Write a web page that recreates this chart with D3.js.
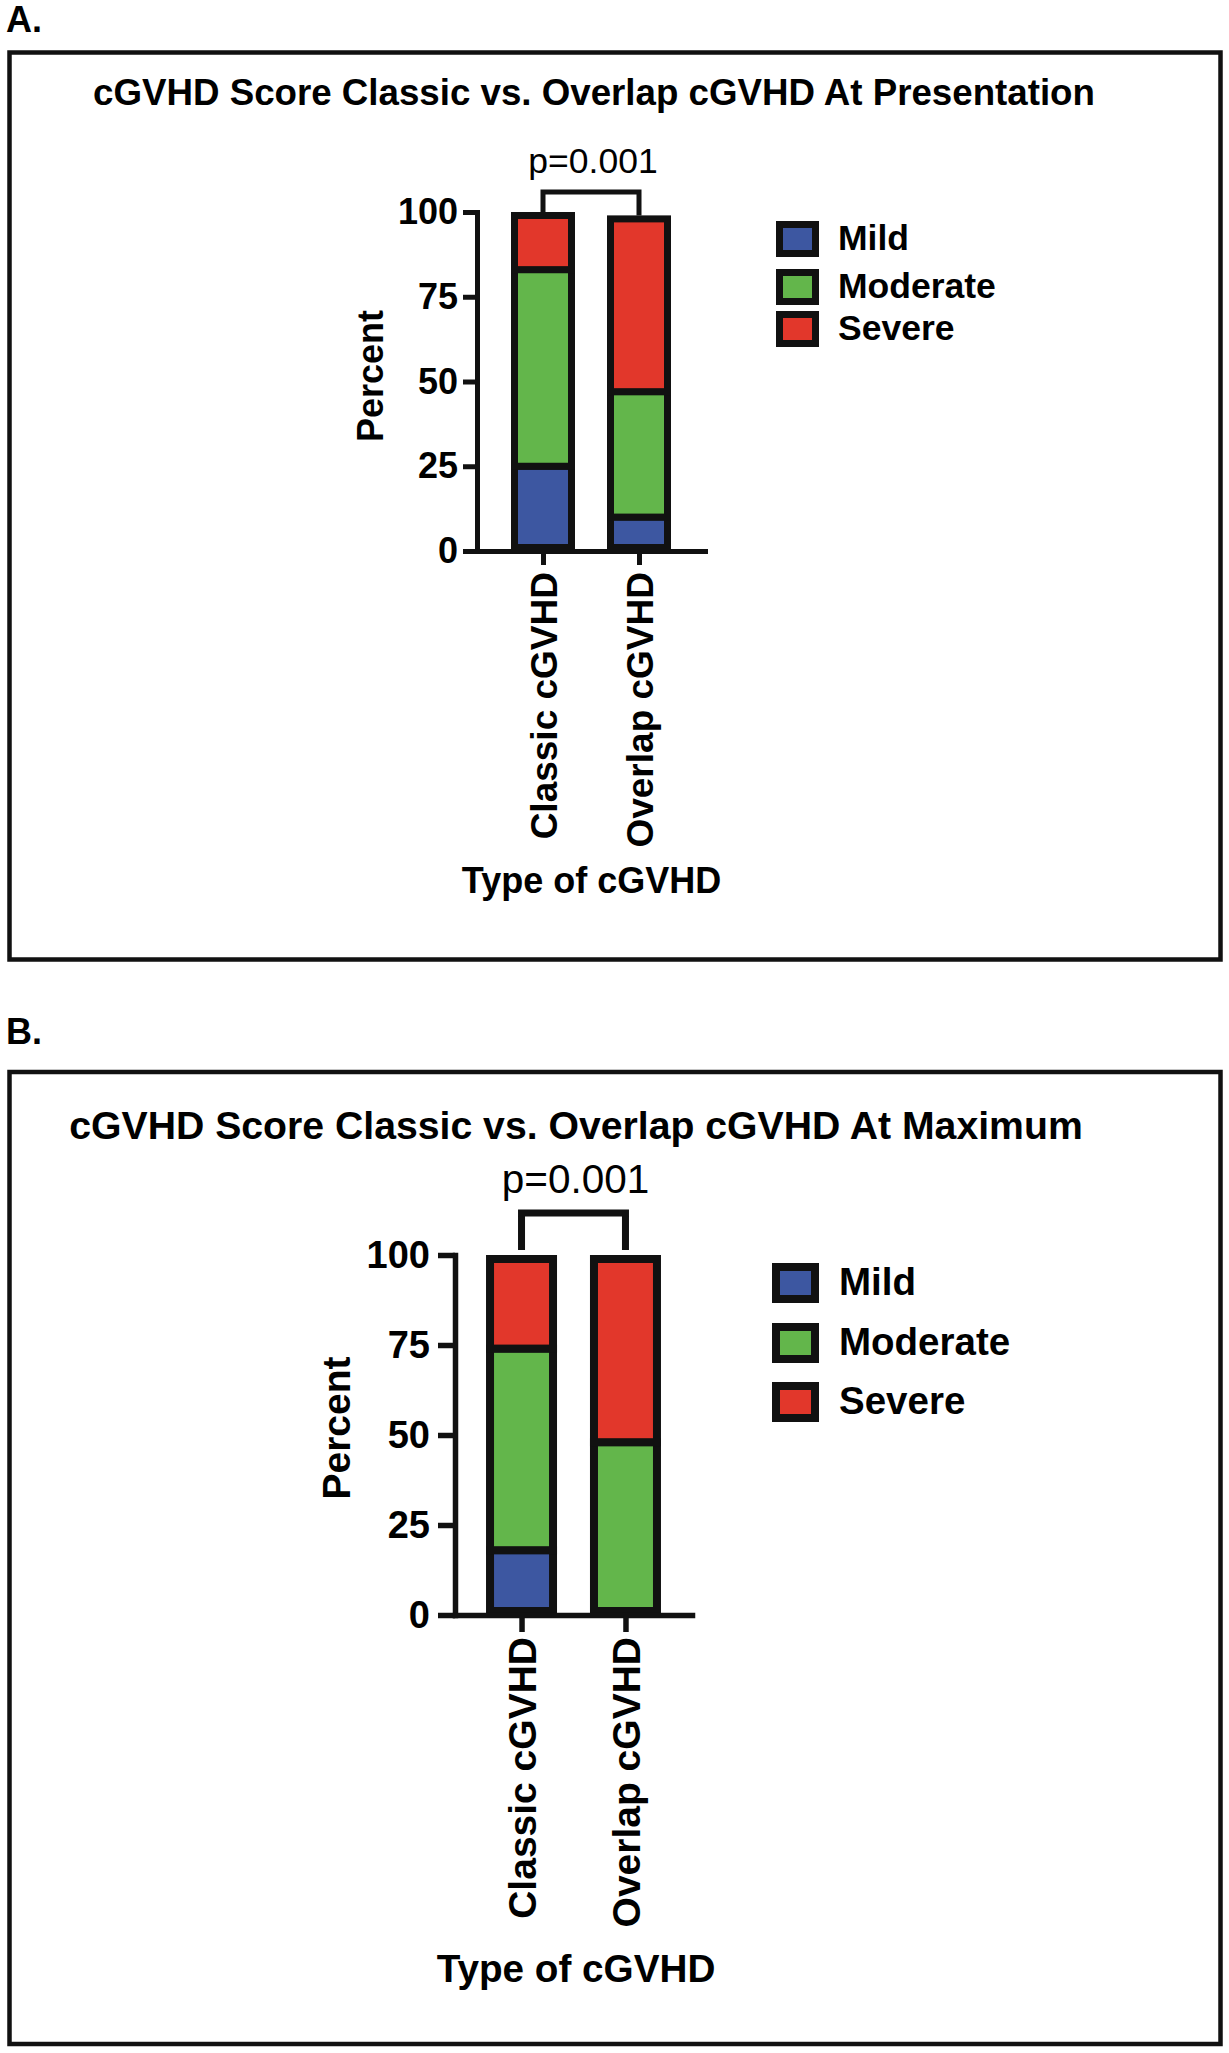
<!DOCTYPE html>
<html>
<head>
<meta charset="utf-8">
<script src="https://cdn.jsdelivr.net/npm/d3@7"></script>
<style>
  html, body { margin: 0; padding: 0; background: #ffffff; }
  svg { display: block; }
  text { font-family: "Liberation Sans", Arial, Helvetica, sans-serif; fill: #000; }
</style>
</head>
<body>
<svg id="chart" width="1229" height="2053"></svg>
<script>
// ---------------- DATA ----------------
const categories = ["Classic cGVHD", "Overlap cGVHD"];
const severities = ["Mild", "Moderate", "Severe"];
const severityColors = ["#3d57a1", "#63b64b", "#e2372b"];

// Panel A: at presentation (percent of patients)
const presentationMild = [25, 10];
const presentationModerate = [58, 37];
const presentationSevere = [17, 52];

// Panel B: at maximum (percent of patients)
const maximumMild = [18, 0];
const maximumModerate = [56, 48];
const maximumSevere = [26, 52];

const yTickValues = [0, 25, 50, 75, 100];
const panelLetters = ["A.", "B."];
const panelTitles = [
  "cGVHD Score Classic vs. Overlap cGVHD At Presentation",
  "cGVHD Score Classic vs. Overlap cGVHD At Maximum"
];
const pValueLabels = ["p=0.001", "p=0.001"];
const yAxisTitle = "Percent";
const xAxisTitle = "Type of cGVHD";

// ---------------- LAYOUT ----------------
const layouts = [
  {
    box: {x: 9.5, y: 52.5, w: 1211, h: 907, sw: 4.5},
    letter: {x: 6, y: 32, size: 36},
    title: {cx: 594, y: 105, size: 36.7},
    plot: {x0: 477, x1: 705, y0: 551, y1: 212, pad: 0.6875},
    axisW: 5, tickLen: 14, yTickPad: 5, xTickPad: 7, tickSize: 36, catSize: 37,
    barW: 64, barSW: 7,
    bracket: {rise: 20, gap: 0, sw: 5},
    p: {dx: 2, rise: 19, size: 35.5},
    yLabel: {x: 383, cy: 376, size: 36},
    xLabel: {cx: 591.5, y: 893, size: 36},
    legend: {x0: 776, x1: 819, rows: [221, 269, 311], h: 36, sw: 7, tx: 838, size: 35.5}
  },
  {
    box: {x: 9.5, y: 1072, w: 1211, h: 972, sw: 4.5},
    letter: {x: 6, y: 1044, size: 36},
    title: {cx: 576, y: 1139, size: 39.2},
    plot: {x0: 455, x1: 692, y0: 1615, y1: 1255, pad: 0.64},
    axisW: 5.5, tickLen: 17, yTickPad: 8, xTickPad: 5, tickSize: 38, catSize: 39,
    barW: 71, barSW: 8,
    bracket: {rise: 42, gap: 5, sw: 7},
    p: {dx: 2, rise: 20, size: 40.5},
    yLabel: {x: 350, cy: 1428, size: 39},
    xLabel: {cx: 576, y: 1982, size: 38.7},
    legend: {x0: 772, x1: 819, rows: [1263, 1323, 1382], h: 40, sw: 8, tx: 839, size: 38.5}
  }
];

const panelData = [
  [presentationMild, presentationModerate, presentationSevere],
  [maximumMild, maximumModerate, maximumSevere]
];

const svg = d3.select("#chart");
svg.append("rect").attr("width", 1229).attr("height", 2053).attr("fill", "#fff");

layouts.forEach((L, pi) => {
  const g = svg.append("g");
  const series = panelData[pi];

  // panel letter
  g.append("text").attr("x", L.letter.x).attr("y", L.letter.y)
    .attr("font-size", L.letter.size).attr("font-weight", "bold").text(panelLetters[pi]);

  // frame
  g.append("rect").attr("x", L.box.x).attr("y", L.box.y)
    .attr("width", L.box.w).attr("height", L.box.h)
    .attr("fill", "none").attr("stroke", "#111").attr("stroke-width", L.box.sw);

  // title
  g.append("text").attr("x", L.title.cx).attr("y", L.title.y)
    .attr("text-anchor", "middle").attr("font-size", L.title.size)
    .attr("font-weight", "bold").text(panelTitles[pi]);

  // scales
  const x = d3.scalePoint().domain(categories).range([L.plot.x0, L.plot.x1]).padding(L.plot.pad);
  const y = d3.scaleLinear().domain([0, 100]).range([L.plot.y0, L.plot.y1]);

  // stacked rows
  const rows = categories.map((c, i) => {
    const r = {category: c};
    severities.forEach((s, si) => { r[s] = series[si][i]; });
    return r;
  });
  const stacked = d3.stack().keys(severities)(rows);
  const totals = rows.map(r => severities.reduce((a, s) => a + r[s], 0));

  const sw = L.barSW;
  stacked.forEach((layer, si) => {
    g.append("g").selectAll("rect")
      .data(layer.filter(d => d[1] - d[0] > 0))
      .join("rect")
      .attr("x", d => x(d.data.category) - L.barW / 2 + sw / 2)
      .attr("width", L.barW - sw)
      .attr("y", d => {
        const isTop = Math.abs(d[1] - totals[categories.indexOf(d.data.category)]) < 1e-9;
        return y(d[1]) + (isTop ? sw / 2 : 0);
      })
      .attr("height", d => {
        const isTop = Math.abs(d[1] - totals[categories.indexOf(d.data.category)]) < 1e-9;
        const top = y(d[1]) + (isTop ? sw / 2 : 0);
        const bot = y(d[0]) - (d[0] === 0 ? sw / 2 : 0);
        return bot - top;
      })
      .attr("fill", severityColors[si])
      .attr("stroke", "#111")
      .attr("stroke-width", sw);
  });

  // y axis
  const yAxis = g.append("g").attr("transform", `translate(${L.plot.x0},0)`)
    .call(d3.axisLeft(y).tickValues(yTickValues).tickSize(L.tickLen).tickSizeOuter(0).tickPadding(L.yTickPad));
  yAxis.select(".domain").attr("stroke", "#111").attr("stroke-width", L.axisW).attr("stroke-linecap", "square");
  yAxis.selectAll(".tick line").attr("stroke", "#111").attr("stroke-width", L.axisW);
  yAxis.selectAll(".tick text").attr("font-size", L.tickSize).attr("font-weight", "bold")
    .attr("font-family", "'Liberation Sans', Arial, sans-serif").attr("fill", "#000");

  // x axis
  const xAxis = g.append("g").attr("transform", `translate(0,${L.plot.y0})`)
    .call(d3.axisBottom(x).tickSize(L.tickLen).tickSizeOuter(0).tickPadding(L.xTickPad));
  xAxis.select(".domain").attr("stroke", "#111").attr("stroke-width", L.axisW).attr("stroke-linecap", "square");
  xAxis.selectAll(".tick line").attr("stroke", "#111").attr("stroke-width", L.axisW);
  xAxis.selectAll(".tick text")
    .attr("font-size", L.catSize).attr("font-weight", "bold")
    .attr("font-family", "'Liberation Sans', Arial, sans-serif").attr("fill", "#000")
    .attr("transform", "rotate(-90)")
    .attr("text-anchor", "end")
    .attr("x", -(L.tickLen + L.xTickPad))
    .attr("y", 0)
    .attr("dy", "0.36em");

  // significance bracket
  const cx0 = x(categories[0]), cx1 = x(categories[1]);
  const by = y(100) - L.bracket.rise;
  g.append("path")
    .attr("d", `M${cx0},${y(totals[0]) - L.bracket.gap}V${by}H${cx1}V${y(totals[1]) - L.bracket.gap}`)
    .attr("fill", "none").attr("stroke", "#111").attr("stroke-width", L.bracket.sw)
    .attr("stroke-linejoin", "miter");
  g.append("text").attr("x", (cx0 + cx1) / 2 + L.p.dx).attr("y", by - L.p.rise)
    .attr("text-anchor", "middle").attr("font-size", L.p.size).text(pValueLabels[pi]);

  // axis titles
  g.append("text")
    .attr("transform", `translate(${L.yLabel.x},${L.yLabel.cy}) rotate(-90)`)
    .attr("text-anchor", "middle").attr("font-size", L.yLabel.size).attr("font-weight", "bold")
    .text(yAxisTitle);
  g.append("text").attr("x", L.xLabel.cx).attr("y", L.xLabel.y)
    .attr("text-anchor", "middle").attr("font-size", L.xLabel.size).attr("font-weight", "bold")
    .text(xAxisTitle);

  // legend
  const lg = g.append("g");
  severities.forEach((s, si) => {
    const top = L.legend.rows[si];
    const lsw = L.legend.sw;
    lg.append("rect")
      .attr("x", L.legend.x0 + lsw / 2).attr("y", top + lsw / 2)
      .attr("width", L.legend.x1 - L.legend.x0 - lsw).attr("height", L.legend.h - lsw)
      .attr("fill", severityColors[si]).attr("stroke", "#111").attr("stroke-width", lsw);
    lg.append("text")
      .attr("x", L.legend.tx)
      .attr("y", top + L.legend.h / 2 - 2 + L.legend.size * 0.716 / 2)
      .attr("font-size", L.legend.size).attr("font-weight", "bold").text(s);
  });
});
</script>
</body>
</html>
